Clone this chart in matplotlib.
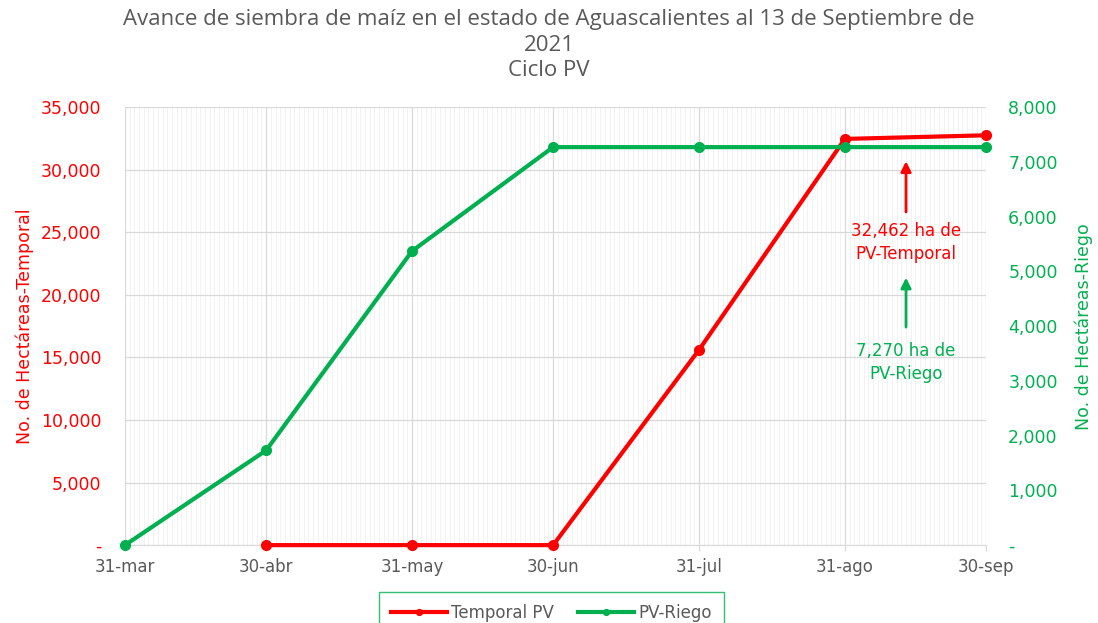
import numpy as np
import pandas as pd
import matplotlib
matplotlib.use("Agg")
import matplotlib.pyplot as plt
import matplotlib.dates as mdates
from matplotlib.ticker import FuncFormatter, MultipleLocator

plt.rcParams['font.family'] = ['DejaVu Sans']

fechas = pd.to_datetime(["2021-03-31", "2021-04-30", "2021-05-31", "2021-06-30",
                         "2021-07-31", "2021-08-31", "2021-09-30"])
etiquetas = ["31-mar", "30-abr", "31-may", "30-jun", "31-jul", "31-ago", "30-sep"]
temporal = [np.nan, 0, 0, 0, 15600, 32462, 32750]
riego = [0, 1730, 5370, 7270, 7270, 7270, 7270]

rojo = "#FF0000"
verde = "#00B050"
gris = "#595959"
fs = 12

fig = plt.figure(figsize=(10.98, 6.23), dpi=100)
ax = fig.add_axes([0.1138, 0.125, 0.7842, 0.703])
ax2 = ax.twinx()

# grid: daily minor lines, major lines at the tick dates
ax.set_xlim(fechas[0], fechas[-1])
ax.set_xticks(fechas)
ax.set_xticklabels(etiquetas, color=gris, fontsize=fs)
ax.xaxis.set_minor_locator(mdates.DayLocator())
ax.grid(which="minor", axis="x", color="#F0F0F0", lw=0.6)
ax.grid(which="major", axis="both", color="#D9D9D9", lw=0.9)
ax.set_axisbelow(True)
ax.tick_params(axis="x", which="major", length=4, color="#D9D9D9", pad=5)
ax.tick_params(axis="x", which="minor", length=0)
ax.tick_params(axis="y", length=0, labelcolor=rojo, labelsize=12.5, pad=17)
ax2.tick_params(axis="y", length=0, labelcolor=verde, labelsize=12.5, pad=16)

for a in (ax, ax2):
    for s in a.spines.values():
        s.set_visible(False)
ax.spines["bottom"].set_visible(True)
ax.spines["bottom"].set_color("#D9D9D9")

fmt = FuncFormatter(lambda v, p: "-" if v == 0 else f"{v:,.0f}")
ax.set_ylim(0, 35000)
ax.yaxis.set_major_locator(MultipleLocator(5000))
ax.yaxis.set_major_formatter(fmt)
ax2.set_ylim(0, 8000)
ax2.yaxis.set_major_locator(MultipleLocator(1000))
ax2.yaxis.set_major_formatter(fmt)

l1, = ax.plot(fechas, temporal, color=rojo, lw=3, marker="o", ms=7,
              clip_on=False, zorder=3, label="Temporal PV")
l2, = ax2.plot(fechas, riego, color=verde, lw=3, marker="o", ms=7,
               clip_on=False, zorder=3, label="PV-Riego")

ax.set_ylabel("No. de Hectáreas-Temporal", color=rojo, fontsize=12.5, labelpad=5)
ax2.set_ylabel("No. de Hectáreas-Riego", color=verde, fontsize=12.5, labelpad=12)

fig.text(0.5, 0.985, "Avance de siembra de maíz en el estado de Aguascalientes al 13 de Septiembre de\n2021\nCiclo PV",
         family="Open Sans", color=gris, fontsize=16, ha="center", va="top", linespacing=1.27)

xa = pd.Timestamp("2021-09-13")
ax.annotate("", xy=(xa, 30900), xytext=(xa, 26400),
            arrowprops=dict(arrowstyle="-|>,head_width=0.3,head_length=0.6", color=rojo, lw=2))
ax.text(xa, 24200, "32,462 ha de\nPV-Temporal", color=rojo, fontsize=fs,
        ha="center", va="center", linespacing=1.4)
ax.annotate("", xy=(xa, 21600), xytext=(xa, 17200),
            arrowprops=dict(arrowstyle="-|>,head_width=0.3,head_length=0.6", color=verde, lw=2))
ax.text(xa, 14600, "7,270 ha de\nPV-Riego", color=verde, fontsize=fs,
        ha="center", va="center", linespacing=1.4)

leg = fig.legend(handles=[l1, l2], loc="upper center", bbox_to_anchor=(0.502, 0.05),
                 ncol=2, frameon=True, fancybox=False, fontsize=fs,
                 handlelength=3.4, handletextpad=0.25, columnspacing=1.4,
                 borderpad=0.7, borderaxespad=0, markerscale=0.6)
leg.get_frame().set_edgecolor(verde)
leg.get_frame().set_linewidth(1)
for t in leg.get_texts():
    t.set_color(gris)

fig.savefig("out.png", dpi=100)
